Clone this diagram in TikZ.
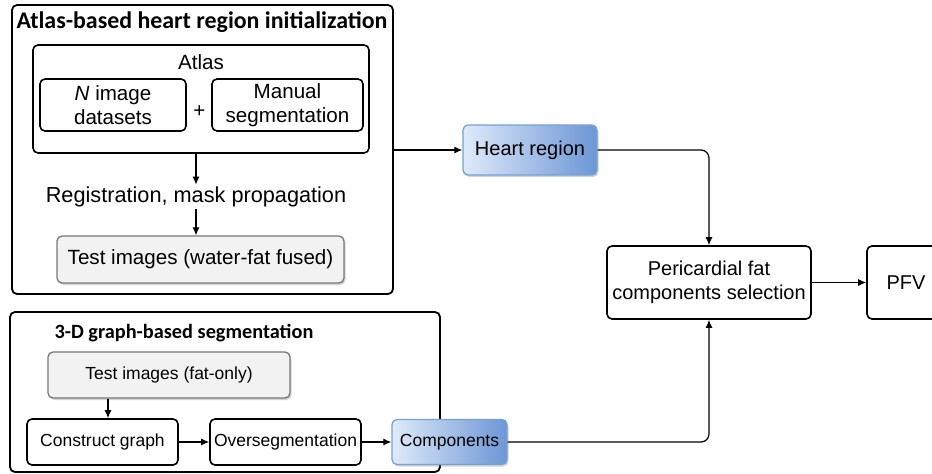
\documentclass[tikz,border=0pt]{standalone}
\usepackage{fontspec}
\setmainfont{Liberation Sans}
\newfontfamily\titlefont{Carlito}
\usetikzlibrary{shadows,arrows.meta}
\definecolor{blueL}{RGB}{222,234,250}
\definecolor{blueR}{RGB}{108,150,213}
\definecolor{blueB}{RGB}{120,160,216}
\definecolor{grayF}{RGB}{242,242,242}
\definecolor{grayB}{RGB}{120,120,120}
\begin{document}
\begin{tikzpicture}[x=1pt,y=-1pt,
  every node/.style={font=\fontsize{20.6}{24.5}\selectfont, inner sep=0pt, align=center},
  fbot/.style={font=\fontsize{17.5}{21}\selectfont},
  fright/.style={font=\fontsize{20}{24.5}\selectfont},
  frame/.style={draw, line width=1.8pt, rounded corners=5pt},
  box/.style={draw, line width=1.6pt, rounded corners=5pt},
  graybox/.style={draw=grayB, fill=grayF, line width=1.3pt, rounded corners=5pt,
     drop shadow={opacity=0.35, shadow xshift=1.5pt, shadow yshift=-2pt}},
  bluebox/.style={draw=blueB, line width=1.3pt, rounded corners=5pt, left color=blueL, right color=blueR,
     drop shadow={opacity=0.35, shadow xshift=1.5pt, shadow yshift=-2pt}},
  ttl/.style={font=\titlefont\bfseries\fontsize{23.9}{26}\selectfont},
  ttlb/.style={font=\titlefont\bfseries\fontsize{20.3}{23}\selectfont},
  arr/.style={-{Latex[length=8pt,width=7pt]}, line width=1.2pt},
  ]
\useasboundingbox (0,0) rectangle (932,474);
% frame 1
\node[frame, minimum width=381pt, minimum height=289pt] (f1) at (202.5,149.5) {};
\node[ttl] (t1) at (202,22) {Atlas-based heart region initialization};
\node[box, minimum width=336pt, minimum height=108pt] (atlas) at (201,99) {};
\node (atl) at (201,62) {Atlas};
\node[box, minimum width=146pt, minimum height=52pt] (nimg) at (113,105) {\textit{N} image\\datasets};
\node[box, minimum width=151pt, minimum height=52pt] (man) at (287.5,105) {Manual\\segmentation};
\node (plus) at (199.5,112) {+};
\node[font=\fontsize{21.7}{24}\selectfont] (reg) at (196,197) {Registration, mask propagation};
\node[graybox, minimum width=287pt, minimum height=47pt] (test1) at (200.5,259.5) {Test images (water-fat fused)};
\draw[arr] (atlas.south -| reg.north) -- ([yshift=2pt]reg.north);
\draw[arr] ([yshift=-2pt]reg.south) -- (test1.north -| reg.north);
% right side
\node[bluebox, fright, minimum width=134pt, minimum height=50pt] (heart) at (530,150) {Heart region};
\node[box, fright, minimum width=204pt, minimum height=73pt] (peri) at (709,282.5) {Pericardial fat\\components selection};
\node[box, fright, minimum width=78pt, minimum height=73pt] (pfv) at (906,282.5) {PFV};
\draw[arr] (f1.east |- heart.west) -- (heart.west);
\draw[arr, rounded corners=8pt] (heart.east) -| (peri.north);
\draw[arr] (peri.east) -- (pfv.west);
% frame 2
\node[frame, minimum width=430pt, minimum height=160pt] (f2) at (225,392) {};
\node[ttlb] (t2) at (184,333) {3-D graph-based segmentation};
\node[graybox, fbot, minimum width=242pt, minimum height=46pt] (test2) at (169,375) {Test images (fat-only)};
\node[box, fbot, minimum width=151pt, minimum height=46pt] (cg) at (102.5,442) {Construct graph};
\node[box, fbot, minimum width=151pt, minimum height=46pt] (os) at (285.5,442) {Oversegmentation};
\node[bluebox, fbot, minimum width=115pt, minimum height=45pt] (comp) at (449.5,442) {Components};
\draw[arr] ([xshift=5.5pt]cg.north |- test2.south) -- ([xshift=5.5pt]cg.north);
\draw[arr] (cg.east) -- (os.west);
\draw[arr] (os.east) -- (comp.west);
\draw[arr, rounded corners=8pt] (comp.east) -| (peri.south);
\end{tikzpicture}
\end{document}
